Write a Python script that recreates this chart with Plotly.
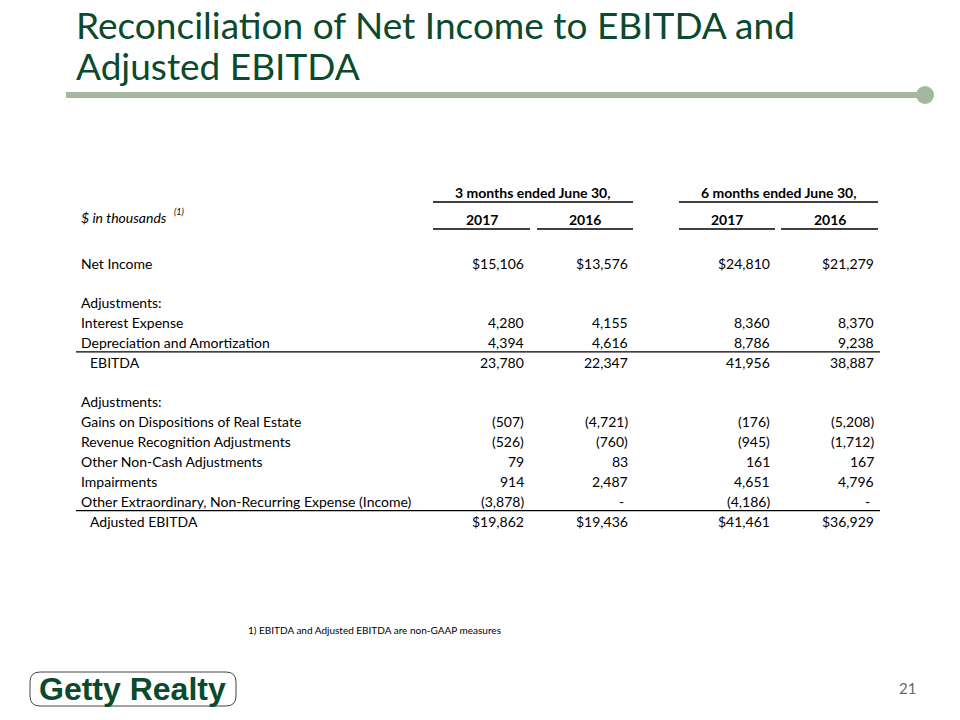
import plotly.graph_objects as go

# table content
row_labels = ["Net Income", "", "Adjustments:", "Interest Expense", "Depreciation and Amortization",
              "EBITDA", "", "Adjustments:", "Gains on Dispositions of Real Estate",
              "Revenue Recognition Adjustments", "Other Non-Cash Adjustments", "Impairments",
              "Other Extraordinary, Non-Recurring Expense (Income)", "Adjusted EBITDA"]
q_2017 = [15106, None, None, 4280, 4394, 23780, None, None, -507, -526, 79, 914, -3878, 19862]
q_2016 = [13576, None, None, 4155, 4616, 22347, None, None, -4721, -760, 83, 2487, 0, 19436]
h_2017 = [24810, None, None, 8360, 8786, 41956, None, None, -176, -945, 161, 4651, -4186, 41461]
h_2016 = [21279, None, None, 8370, 9238, 38887, None, None, -5208, -1712, 167, 4796, 0, 36929]
dollar_rows = ["Net Income", "Adjusted EBITDA"]
indented_rows = ["EBITDA", "Adjusted EBITDA"]
period_headers = ["3 months ended June 30,", "6 months ended June 30,"]
year_headers = ["2017", "2016", "2017", "2016"]
title_lines = ["Reconciliation of Net Income to EBITDA and", "Adjusted EBITDA"]

GREEN = "#0B4A2C"
SAGE = "#A5B79E"
FONT = "Lato, 'Open Sans', sans-serif"


def fmt(v, label):
    if v is None:
        return ""
    if v == 0:
        return "-"
    s = f"{abs(v):,}"
    if label in dollar_rows:
        s = "$" + s
    if v < 0:
        s = "(" + s + ")"
    return s


fig = go.Figure()
ann = []
shapes = []

# title and rule
for k, line in enumerate(title_lines):
    ann.append(dict(x=74, y=0 + k * 41, text=line, xanchor="left", yanchor="top",
                    showarrow=False, font=dict(family=FONT, size=37, color=GREEN)))
shapes.append(dict(type="line", x0=66, x1=924, y0=95, y1=95, line=dict(color=SAGE, width=6)))
shapes.append(dict(type="circle", x0=916, x1=934, y0=86, y1=104, fillcolor=SAGE, line=dict(width=0)))

# headers
col_right = [526, 630, 772, 876]
col_spans = [(433, 530), (537, 633), (679, 775), (781, 878)]
period_spans = [(433, 633), (679, 878)]
for (a, b), txt in zip(period_spans, period_headers):
    ann.append(dict(x=(a + b) / 2, y=192, text="<b>" + txt + "</b>", showarrow=False,
                    font=dict(family=FONT, size=14, color="#000")))
    shapes.append(dict(type="line", x0=a, x1=b, y0=202, y1=202, line=dict(color="#000", width=1.3)))
for (a, b), txt in zip(col_spans, year_headers):
    ann.append(dict(x=(a + b) / 2, y=219, text="<b>" + txt + "</b>", showarrow=False,
                    font=dict(family=FONT, size=14, color="#000")))
    shapes.append(dict(type="line", x0=a, x1=b, y0=229, y1=229, line=dict(color="#000", width=1.3)))
ann.append(dict(x=79, y=217, text="<i>$ in thousands </i>", xanchor="left",
                showarrow=False, font=dict(family=FONT, size=14, color="#000")))
ann.append(dict(x=172, y=211, text="<i>(1)</i>", xanchor="left",
                showarrow=False, font=dict(family=FONT, size=9, color="#000")))

# body rows
y0, step = 263, 19.85
for i, label in enumerate(row_labels):
    y = y0 + i * step
    if label:
        ann.append(dict(x=88 if label in indented_rows else 79, y=y, text=label, xanchor="left",
                        showarrow=False, font=dict(family=FONT, size=14, color="#000")))
    for xr, series in zip(col_right, [q_2017, q_2016, h_2017, h_2016]):
        t = fmt(series[i], label)
        if t:
            ann.append(dict(x=xr if t != "-" else xr - 4, y=y, text=t, xanchor="right",
                            showarrow=False, font=dict(family=FONT, size=14, color="#000")))
    if label in ["Depreciation and Amortization", "Other Extraordinary, Non-Recurring Expense (Income)"]:
        shapes.append(dict(type="line", x0=76, x1=880, y0=y + 9.5, y1=y + 9.5,
                           line=dict(color="#000", width=1.3)))

# footnote, logo, page number
ann.append(dict(x=246, y=630, text="1) EBITDA and Adjusted EBITDA are non-GAAP measures", xanchor="left",
                showarrow=False, font=dict(family=FONT, size=10, color="#000")))
shapes.append(dict(type="path", path="M 40 672 L 226 672 Q 236 672 236 682 L 236 696 Q 236 706 226 706 "
                                     "L 40 706 Q 30 706 30 696 L 30 682 Q 30 672 40 672 Z",
                   line=dict(color="#444", width=1)))
ann.append(dict(x=132, y=689, text="<b>Getty Realty</b>", showarrow=False,
                font=dict(family="'Liberation Sans Narrow', 'Liberation Sans', Arial, sans-serif",
                          size=32, color=GREEN)))
ann.append(dict(x=918, y=688, text="21", xanchor="right", showarrow=False,
                font=dict(family=FONT, size=15, color="#666")))

fig.update_layout(
    width=960, height=720, margin=dict(l=0, r=0, t=0, b=0),
    paper_bgcolor="white", plot_bgcolor="white",
    xaxis=dict(range=[0, 960], visible=False, fixedrange=True),
    yaxis=dict(range=[720, 0], visible=False, fixedrange=True),
    annotations=ann, shapes=shapes, showlegend=False,
)
fig.write_html("out.html", config={"displayModeBar": False},
               post_script="document.body.style.margin='0';")
